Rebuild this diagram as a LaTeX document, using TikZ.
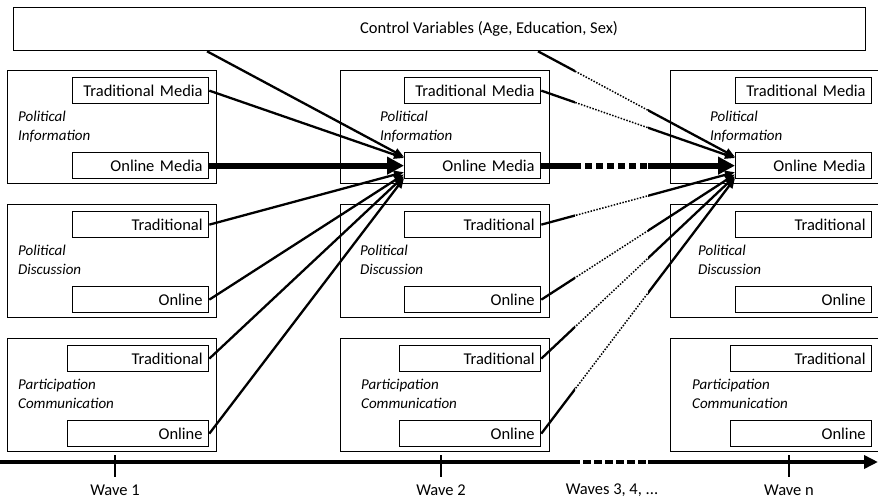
\documentclass[tikz,border=0pt]{standalone}
\usepackage{fontspec}
\setmainfont{Carlito}
\usetikzlibrary{arrows.meta,calc}
\begin{document}
\begin{tikzpicture}[x=1pt,y=-1pt,
  outerbox/.style={draw,line width=1.3pt,minimum width=209pt,minimum height=113pt,anchor=north west,inner sep=0pt},
  innerbox/.style={draw,line width=1.3pt,text width=124pt,align=right,inner xsep=6pt,inner ysep=0pt,minimum height=26pt,anchor=north west,font=\fontsize{16.5}{18}\selectfont},
  widebox/.style={innerbox,text width=129pt},
  rowlab/.style={anchor=west,align=left,inner sep=0pt,font=\fontsize{15}{18.5}\selectfont\itshape},
  conn/.style={line width=2.3pt,-{Triangle[length=10pt,width=8pt]}},
  dotconn/.style={line width=1.5pt,dash pattern=on 1.5pt off 1.5pt},
  thickconn/.style={line width=6pt,-{Triangle[length=17pt,width=17pt]}},
  dashthick/.style={line width=6pt,dash pattern=on 7pt off 4pt},
  axisline/.style={line width=4pt,-{Triangle[length=14pt,width=13pt]}},
  axisdash/.style={line width=4pt,dash pattern=on 8pt off 3pt},
  tickline/.style={line width=2.5pt},
  wavelab/.style={font=\fontsize{16.5}{18}\selectfont}
]
\useasboundingbox (0,0) rectangle (878,500);

% control box
\node[draw,line width=1.3pt,minimum width=852pt,minimum height=43pt,anchor=north west,inner sep=0pt] (ctrl) at (13,7) {};
\node[font=\fontsize{16.5}{18}\selectfont] (ctrllab) at (489,28.5) {Control Variables (Age, Education, Sex)};
\coordinate (c1) at ($(ctrl.south west)+(194,0)$);
\coordinate (c2) at ($(ctrl.south west)+(525,0)$);

% wave 1
\node[outerbox] (w1r1) at (7,70) {};
\node[outerbox] (w1r2) at (7,204) {};
\node[outerbox] (w1r3) at (7,338) {};
\node[innerbox] (w1tm) at (72,77) {Traditional Media};
\node[innerbox] (w1om) at (72,152) {Online Media};
\node[innerbox] (w1dt) at (72,211) {Traditional};
\node[innerbox] (w1do) at (72,286) {Online};
\node[widebox] (w1pt) at (67,345) {Traditional};
\node[widebox] (w1po) at (67,420) {Online};
\node[rowlab] (w1l1) at (18,126.5) {Political\\Information};
\node[rowlab] (w1l2) at (18,260) {Political\\Discussion};
\node[rowlab] (w1l3) at (18,394) {Participation\\Communication};

% wave 2
\node[outerbox] (w2r1) at (340,70) {};
\node[outerbox] (w2r2) at (340,204) {};
\node[outerbox] (w2r3) at (340,338) {};
\node[innerbox] (w2tm) at (404,77) {Traditional Media};
\node[innerbox] (w2om) at (404,152) {Online Media};
\node[innerbox] (w2dt) at (404,211) {Traditional};
\node[innerbox] (w2do) at (404,286) {Online};
\node[widebox] (w2pt) at (399,345) {Traditional};
\node[widebox] (w2po) at (399,420) {Online};
\node[rowlab] (w2l1) at (380,126.5) {Political\\Information};
\node[rowlab] (w2l2) at (360,260) {Political\\Discussion};
\node[rowlab] (w2l3) at (361,394) {Participation\\Communication};

% wave 3
\node[outerbox,minimum width=215pt] (w3r1) at (670,70) {};
\node[outerbox,minimum width=215pt] (w3r2) at (670,204) {};
\node[outerbox,minimum width=215pt] (w3r3) at (670,338) {};
\node[innerbox] (w3tm) at (735,77) {Traditional Media};
\node[innerbox] (w3om) at (735,152) {Online Media};
\node[innerbox] (w3dt) at (735,211) {Traditional};
\node[innerbox] (w3do) at (735,286) {Online};
\node[widebox] (w3pt) at (730,345) {Traditional};
\node[widebox] (w3po) at (730,420) {Online};
\node[rowlab] (w3l1) at (710,126.5) {Political\\Information};
\node[rowlab] (w3l2) at (698,260) {Political\\Discussion};
\node[rowlab] (w3l3) at (692,394) {Participation\\Communication};

% axis coordinates
\coordinate (axL) at (0,462);
\coordinate (axR) at (878,462);

% wave 1 -> wave 2
\draw[conn] (c1) -- ($(w2om.north west)!0.18!(w2om.south west)$);
\draw[conn] (w1tm.east) -- ($(w2om.north west)!0.22!(w2om.south west)$);
\draw[thickconn] (w1om.east) -- (w2om.west);
\draw[conn] (w1dt.east) -- ($(w2om.north west)!0.74!(w2om.south west)$);
\draw[conn] (w1do.east) -- ($(w2om.north west)!0.82!(w2om.south west)$);
\draw[conn] (w1pt.east) -- ($(w2om.north west)!0.89!(w2om.south west)$);
\draw[conn] (w1po.east) -- ($(w2om.north west)!0.96!(w2om.south west)$);

% wave 2 -> wave 3 solid parts
\begin{scope}
\clip (-5,-5) rectangle (575,505) (648,-5) rectangle (885,505);
\draw[conn] (c2) -- ($(w3om.north west)!0.18!(w3om.south west)$);
\draw[conn] (w2tm.east) -- ($(w3om.north west)!0.22!(w3om.south west)$);
\draw[thickconn] (w2om.east) -- (w3om.west);
\draw[conn] (w2dt.east) -- ($(w3om.north west)!0.74!(w3om.south west)$);
\draw[conn] (w2do.east) -- ($(w3om.north west)!0.82!(w3om.south west)$);
\draw[conn] (w2pt.east) -- ($(w3om.north west)!0.89!(w3om.south west)$);
\draw[conn] (w2po.east) -- ($(w3om.north west)!0.96!(w3om.south west)$);
\draw[axisline] (axL) -- (axR);
\end{scope}
% wave 2 -> wave 3 dotted parts
\begin{scope}
\clip (575,-5) rectangle (648,505);
\draw[dotconn] (c2) -- ($(w3om.north west)!0.18!(w3om.south west)$);
\draw[dotconn] (w2tm.east) -- ($(w3om.north west)!0.22!(w3om.south west)$);
\draw[dashthick] (w2om.east) -- (w3om.west);
\draw[dotconn] (w2dt.east) -- ($(w3om.north west)!0.74!(w3om.south west)$);
\draw[dotconn] (w2do.east) -- ($(w3om.north west)!0.82!(w3om.south west)$);
\draw[dotconn] (w2pt.east) -- ($(w3om.north west)!0.89!(w3om.south west)$);
\draw[dotconn] (w2po.east) -- ($(w3om.north west)!0.96!(w3om.south west)$);
\draw[axisdash] (axL) -- (axR);
\end{scope}

% ticks and labels
\coordinate (t1a) at (115,455); \coordinate (t1b) at (115,477);
\coordinate (t2a) at (441,455); \coordinate (t2b) at (441,477);
\coordinate (t3a) at (789,455); \coordinate (t3b) at (789,477);
\draw[tickline] (t1a) -- (t1b);
\draw[tickline] (t2a) -- (t2b);
\draw[tickline] (t3a) -- (t3b);
\node[wavelab] (lw1) at (115,490) {Wave 1};
\node[wavelab] (lw2) at (441,490) {Wave 2};
\node[wavelab] (lw3) at (612,490) {Waves 3, 4, ...};
\node[wavelab] (lwn) at (789,490) {Wave n};
\end{tikzpicture}
\end{document}
